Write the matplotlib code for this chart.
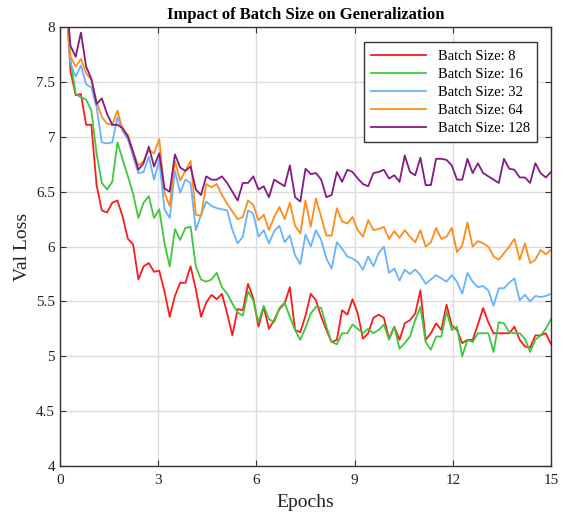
import numpy as np
import matplotlib
matplotlib.use("Agg")
import matplotlib.pyplot as plt

plt.rcParams['font.family'] = ['Liberation Serif', 'DejaVu Serif']
plt.rcParams['mathtext.fontset'] = 'stix'

epochs = np.linspace(0, 15, 95)

bs8 = [9.0, 8.4, 7.6, 7.38, 7.39, 7.11, 7.11, 6.56, 6.33, 6.31, 6.40, 6.42, 6.27, 6.07, 6.02, 5.70,
       5.82, 5.85, 5.77, 5.78, 5.59, 5.36, 5.55, 5.67, 5.67, 5.82, 5.61, 5.36, 5.49, 5.56, 5.52, 5.57,
       5.39, 5.19, 5.43, 5.42, 5.66, 5.53, 5.27, 5.45, 5.25, 5.33, 5.43, 5.48, 5.63, 5.24, 5.22, 5.37,
       5.57, 5.51, 5.36, 5.24, 5.13, 5.15, 5.42, 5.38, 5.52, 5.39, 5.16, 5.21, 5.35, 5.38, 5.35, 5.16,
       5.27, 5.15, 5.30, 5.33, 5.39, 5.60, 5.15, 5.21, 5.30, 5.24, 5.47, 5.28, 5.24, 5.12, 5.15, 5.15,
       5.29, 5.44, 5.31, 5.21, 5.21, 5.21, 5.21, 5.27, 5.15, 5.09, 5.08, 5.19, 5.19, 5.21, 5.11]

bs16 = [9.0, 8.4, 7.7, 7.39, 7.36, 7.34, 7.24, 6.85, 6.58, 6.52, 6.59, 6.95, 6.79, 6.64, 6.48, 6.26,
        6.40, 6.46, 6.26, 6.34, 6.03, 5.82, 6.16, 6.06, 6.17, 6.18, 5.82, 5.70, 5.68, 5.70, 5.76, 5.63,
        5.57, 5.48, 5.40, 5.37, 5.59, 5.51, 5.31, 5.46, 5.34, 5.31, 5.44, 5.49, 5.36, 5.24, 5.15, 5.26,
        5.39, 5.45, 5.44, 5.27, 5.13, 5.11, 5.21, 5.21, 5.29, 5.25, 5.21, 5.25, 5.21, 5.24, 5.29, 5.15,
        5.27, 5.07, 5.12, 5.18, 5.33, 5.45, 5.13, 5.06, 5.18, 5.18, 5.41, 5.24, 5.27, 5.00, 5.15, 5.13,
        5.21, 5.21, 5.21, 5.04, 5.31, 5.30, 5.22, 5.21, 5.21, 5.16, 5.04, 5.15, 5.19, 5.25, 5.34]

bs32 = [9.0, 8.3, 7.67, 7.55, 7.65, 7.48, 7.45, 7.27, 6.95, 6.94, 6.95, 7.18, 7.05, 6.98, 6.82, 6.67,
        6.68, 6.82, 6.61, 6.79, 6.34, 6.26, 6.69, 6.49, 6.61, 6.58, 6.15, 6.29, 6.41, 6.37, 6.35, 6.34,
        6.33, 6.15, 6.03, 6.09, 6.33, 6.30, 6.09, 6.15, 6.03, 6.14, 6.19, 6.04, 6.10, 5.92, 5.84, 6.11,
        6.00, 6.15, 6.06, 5.89, 5.80, 6.04, 5.98, 5.91, 5.89, 5.86, 5.79, 5.91, 5.82, 5.94, 6.00, 5.76,
        5.80, 5.69, 5.79, 5.75, 5.79, 5.74, 5.66, 5.70, 5.74, 5.71, 5.68, 5.74, 5.68, 5.57, 5.76, 5.68,
        5.63, 5.64, 5.60, 5.46, 5.62, 5.62, 5.67, 5.71, 5.51, 5.56, 5.50, 5.55, 5.54, 5.55, 5.57]

bs64 = [9.0, 8.3, 7.73, 7.64, 7.71, 7.58, 7.52, 7.32, 7.18, 7.12, 7.11, 7.24, 7.06, 7.02, 6.86, 6.74,
        6.78, 6.88, 6.85, 6.98, 6.49, 6.37, 6.78, 6.60, 6.69, 6.78, 6.29, 6.28, 6.57, 6.54, 6.57, 6.47,
        6.39, 6.32, 6.25, 6.27, 6.42, 6.38, 6.24, 6.29, 6.15, 6.27, 6.36, 6.25, 6.40, 6.19, 6.12, 6.42,
        6.18, 6.44, 6.27, 6.10, 6.10, 6.35, 6.23, 6.21, 6.27, 6.15, 6.09, 6.24, 6.15, 6.16, 6.18, 6.07,
        6.14, 6.08, 6.15, 6.09, 6.04, 6.15, 6.00, 6.04, 6.17, 6.07, 6.09, 6.17, 5.95, 6.01, 6.22, 6.00,
        6.05, 6.03, 6.00, 5.91, 5.88, 5.94, 6.00, 6.07, 5.88, 6.03, 5.85, 5.88, 5.97, 5.93, 5.97]

bs128 = [9.2, 8.4, 7.83, 7.73, 7.95, 7.64, 7.53, 7.30, 7.35, 7.21, 7.11, 7.11, 7.08, 7.00, 6.86, 6.70,
         6.76, 6.91, 6.73, 6.85, 6.53, 6.50, 6.84, 6.72, 6.69, 6.73, 6.52, 6.47, 6.64, 6.61, 6.61, 6.64,
         6.58, 6.50, 6.42, 6.58, 6.58, 6.64, 6.52, 6.55, 6.45, 6.61, 6.58, 6.55, 6.74, 6.45, 6.41, 6.71,
         6.66, 6.67, 6.61, 6.45, 6.47, 6.68, 6.59, 6.70, 6.68, 6.62, 6.57, 6.55, 6.67, 6.68, 6.70, 6.62,
         6.65, 6.59, 6.83, 6.68, 6.65, 6.81, 6.56, 6.56, 6.80, 6.80, 6.79, 6.74, 6.61, 6.61, 6.80, 6.67,
         6.76, 6.67, 6.64, 6.61, 6.58, 6.80, 6.71, 6.70, 6.63, 6.63, 6.58, 6.76, 6.67, 6.63, 6.68]

series = [bs8, bs16, bs32, bs64, bs128]
labels = ['Batch Size: 8', 'Batch Size: 16', 'Batch Size: 32', 'Batch Size: 64', 'Batch Size: 128']
colors = ['#FF1A1A', '#3CC83C', '#66B3FF', '#FF8C1A', '#851A85']

xticks = [0, 3, 6, 9, 12, 15]
yticks = [4, 4.5, 5, 5.5, 6, 6.5, 7, 7.5, 8]
ytick_labels = ['4', '4.5', '5', '5.5', '6', '6.5', '7', '7.5', '8']

fig = plt.figure(figsize=(5.63, 5.12), dpi=100)
ax = fig.add_axes([0.1066, 0.0898, 0.8721, 0.8572])

for y, lab, c in zip(series, labels, colors):
    ax.plot(epochs, y, color=c, lw=1.3, label=lab)

ax.set_xlim(0, 15)
ax.set_ylim(4, 8)
ax.set_xticks(xticks)
ax.set_yticks(yticks)
ax.set_yticklabels(ytick_labels)
ax.grid(True, color='#DDDDDD', lw=1.0)
ax.set_axisbelow(True)
ax.tick_params(direction='in', top=True, right=True, labelsize=11, length=4, colors='#333333',
               labelcolor='#222222')
ax.tick_params(axis='x', pad=6)
for s in ax.spines.values():
    s.set_color('#333333')
    s.set_linewidth(1.0)

ax.set_xlabel('Epochs', fontsize=14, labelpad=5, color='#222222')
ax.set_ylabel('Val Loss', fontsize=14, labelpad=4, color='#222222')
ax.set_title('Impact of Batch Size on Generalization', fontsize=12, fontweight='bold', pad=6)

leg = ax.legend(loc='upper right', fontsize=10.5, fancybox=False, framealpha=1,
                edgecolor='#333333', handlelength=3.8, borderpad=0.5, labelspacing=0.33,
                bbox_to_anchor=(0.987, 0.982))
leg.get_frame().set_linewidth(1.0)

fig.savefig('out.png', dpi=100)
